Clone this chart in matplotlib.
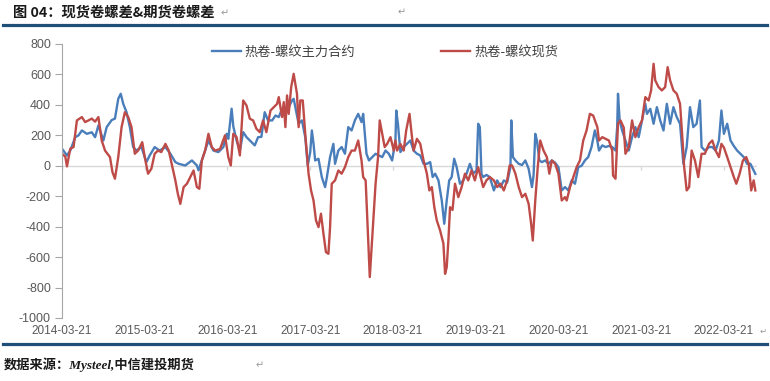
import matplotlib
matplotlib.use("Agg")
import matplotlib.pyplot as plt
from matplotlib.lines import Line2D

plt.rcParams['font.family'] = ['Liberation Sans', 'Noto Sans CJK SC', 'DejaVu Sans']
plt.rcParams['axes.unicode_minus'] = False

# time as decimal year, one line per year
futures_t = (
    [2014.22, 2014.28, 2014.32, 2014.38, 2014.42, 2014.46, 2014.52, 2014.58, 2014.62, 2014.66, 2014.72, 2014.76, 2014.82, 2014.86, 2014.90, 2014.93, 2014.96]
    + [2015.00, 2015.04, 2015.08, 2015.12, 2015.18, 2015.24, 2015.28, 2015.34, 2015.40, 2015.47, 2015.53, 2015.59, 2015.63, 2015.71, 2015.79, 2015.85, 2015.87, 2015.93, 2015.99]
    + [2016.05, 2016.11, 2016.17, 2016.21, 2016.23, 2016.27, 2016.29, 2016.33, 2016.37, 2016.41, 2016.45, 2016.51, 2016.55, 2016.59, 2016.63, 2016.67, 2016.71, 2016.76, 2016.80, 2016.84, 2016.88, 2016.92, 2016.96]
    + [2017.00, 2017.02, 2017.04, 2017.08, 2017.12, 2017.16, 2017.19, 2017.22, 2017.24, 2017.26, 2017.28, 2017.32, 2017.36, 2017.40, 2017.42, 2017.46, 2017.50, 2017.52, 2017.56, 2017.60, 2017.64, 2017.68, 2017.72, 2017.76, 2017.80, 2017.84, 2017.86, 2017.90, 2017.93, 2017.97]
    + [2018.01, 2018.05, 2018.09, 2018.13, 2018.17, 2018.21, 2018.25, 2018.26, 2018.28, 2018.31, 2018.35, 2018.39, 2018.43, 2018.47, 2018.51, 2018.55, 2018.59, 2018.63, 2018.67, 2018.70, 2018.73, 2018.77, 2018.81, 2018.84, 2018.87, 2018.90, 2018.93, 2018.96, 2018.99]
    + [2019.03, 2019.07, 2019.11, 2019.15, 2019.19, 2019.23, 2019.25, 2019.27, 2019.29, 2019.31, 2019.35, 2019.39, 2019.44, 2019.48, 2019.52, 2019.56, 2019.60, 2019.64, 2019.65, 2019.67, 2019.70, 2019.74, 2019.78, 2019.82, 2019.86, 2019.90, 2019.92, 2019.94, 2019.96, 2019.99]
    + [2020.02, 2020.06, 2020.10, 2020.14, 2020.18, 2020.22, 2020.26, 2020.30, 2020.34, 2020.38, 2020.42, 2020.46, 2020.50, 2020.54, 2020.58, 2020.62, 2020.66, 2020.69, 2020.71, 2020.75, 2020.79, 2020.83, 2020.87, 2020.91, 2020.93, 2020.94, 2020.96, 2020.99]
    + [2021.03, 2021.07, 2021.11, 2021.15, 2021.19, 2021.23, 2021.27, 2021.29, 2021.33, 2021.37, 2021.41, 2021.45, 2021.49, 2021.53, 2021.57, 2021.61, 2021.65, 2021.69, 2021.73, 2021.77, 2021.81, 2021.85, 2021.89, 2021.93, 2021.95, 2021.99]
    + [2022.04, 2022.08, 2022.12, 2022.16, 2022.19, 2022.22, 2022.26, 2022.30, 2022.34, 2022.38, 2022.42, 2022.46, 2022.50, 2022.54, 2022.58, 2022.60]
)
futures_v = (
    [112, 68, 100, 188, 200, 232, 210, 220, 188, 265, 166, 254, 300, 310, 440, 473, 407]
    + [352, 254, 123, 100, 123, 24, 68, 123, 100, 123, 79, 24, 13, 2, 35, 2, -30, 68, 166]
    + [100, 90, 123, 210, 177, 375, 260, 166, 100, 221, 188, 155, 134, 188, 190, 352, 298, 298, 330, 320, 375, 352, 385]
    + [429, 440, 385, 276, 298, 188, 2, 90, 232, 144, 35, 46, -74, -140, -80, 57, 144, 13, 100, 123, 79, 254, 232, 298, 341, 287, 341, 79, 35, 57]
    + [79, 68, 57, 100, 79, 35, 166, 363, 276, 90, 123, 144, 166, 100, 79, 68, 13, 13, 24, -74, -52, -96, -228, -381, -228, -96, -74, 46, -9]
    + [-118, -96, -52, 13, -52, -30, 276, 254, -52, -74, -60, -74, -162, -96, -140, -96, -110, -9, 298, 57, 35, 13, 5, 35, -20, -140, -60, 210, 166, 35]
    + [24, 35, 13, 35, 20, -9, -162, -140, -162, -96, -118, -9, 0, 35, 57, 123, 232, 166, 100, 134, 123, 130, 123, 100, 254, 473, 298, 232]
    + [166, 100, 188, 254, 188, 298, 407, 341, 374, 276, 385, 298, 232, 407, 276, 385, 320, 276, 13, 123, 385, 254, 276, 429, 123, 100]
    + [123, 123, 100, 166, 363, 210, 276, 166, 130, 100, 79, 57, 13, 13, -31, -53]
)

spot_t = (
    [2014.22, 2014.26, 2014.28, 2014.32, 2014.36, 2014.40, 2014.46, 2014.50, 2014.54, 2014.58, 2014.62, 2014.66, 2014.70, 2014.74, 2014.80, 2014.83, 2014.86, 2014.90, 2014.94, 2014.98]
    + [2015.02, 2015.06, 2015.10, 2015.14, 2015.19, 2015.22, 2015.26, 2015.30, 2015.34, 2015.38, 2015.42, 2015.47, 2015.51, 2015.55, 2015.59, 2015.62, 2015.65, 2015.69, 2015.73, 2015.77, 2015.81, 2015.85, 2015.88, 2015.91, 2015.95, 2015.99]
    + [2016.03, 2016.07, 2016.13, 2016.19, 2016.23, 2016.26, 2016.29, 2016.33, 2016.37, 2016.41, 2016.45, 2016.49, 2016.53, 2016.57, 2016.61, 2016.65, 2016.69, 2016.74, 2016.78, 2016.82, 2016.84, 2016.88, 2016.90, 2016.92, 2016.94, 2016.96, 2016.99]
    + [2017.02, 2017.04, 2017.06, 2017.08, 2017.10, 2017.13, 2017.16, 2017.18, 2017.20, 2017.23, 2017.26, 2017.29, 2017.32, 2017.35, 2017.38, 2017.41, 2017.44, 2017.46, 2017.48, 2017.52, 2017.56, 2017.60, 2017.64, 2017.68, 2017.72, 2017.76, 2017.80, 2017.84, 2017.86, 2017.89, 2017.92, 2017.94, 2017.97]
    + [2018.01, 2018.04, 2018.06, 2018.09, 2018.12, 2018.15, 2018.19, 2018.23, 2018.25, 2018.27, 2018.31, 2018.35, 2018.38, 2018.42, 2018.45, 2018.47, 2018.51, 2018.55, 2018.59, 2018.63, 2018.66, 2018.69, 2018.72, 2018.75, 2018.79, 2018.83, 2018.85, 2018.87, 2018.89, 2018.91, 2018.94, 2018.97]
    + [2019.01, 2019.05, 2019.09, 2019.13, 2019.17, 2019.21, 2019.25, 2019.29, 2019.31, 2019.35, 2019.39, 2019.44, 2019.48, 2019.52, 2019.56, 2019.60, 2019.63, 2019.66, 2019.70, 2019.74, 2019.78, 2019.82, 2019.86, 2019.89, 2019.91, 2019.94, 2019.97]
    + [2020.00, 2020.04, 2020.08, 2020.11, 2020.14, 2020.18, 2020.22, 2020.26, 2020.30, 2020.32, 2020.36, 2020.40, 2020.44, 2020.48, 2020.52, 2020.56, 2020.60, 2020.64, 2020.69, 2020.71, 2020.75, 2020.79, 2020.83, 2020.87, 2020.88, 2020.91, 2020.94, 2020.97]
    + [2021.01, 2021.03, 2021.07, 2021.11, 2021.15, 2021.19, 2021.23, 2021.27, 2021.31, 2021.34, 2021.37, 2021.39, 2021.43, 2021.47, 2021.51, 2021.54, 2021.57, 2021.61, 2021.65, 2021.69, 2021.72, 2021.74, 2021.77, 2021.80, 2021.83, 2021.87, 2021.91, 2021.95, 2021.99]
    + [2022.04, 2022.08, 2022.12, 2022.16, 2022.19, 2022.22, 2022.26, 2022.30, 2022.34, 2022.37, 2022.41, 2022.45, 2022.49, 2022.52, 2022.55, 2022.58, 2022.60]
)
spot_v = (
    [79, 60, -4, 112, 123, 298, 320, 287, 298, 310, 290, 320, 166, 100, 57, -42, -85, 57, 254, 352]
    + [320, 254, 79, 100, 155, 57, -52, -20, 79, 100, 90, 144, 100, 2, -96, -184, -250, -140, -118, -74, -31, -140, -151, 35, 100, 210]
    + [123, 100, 110, 200, 57, 2, 210, 188, 68, 429, 396, 309, 298, 243, 221, 298, 221, 363, 385, 407, 451, 320, 418, 254, 462, 341, 517]
    + [604, 539, 473, 254, 429, 429, 210, 79, -52, -162, -228, -359, -403, -315, -447, -567, -578, -403, -118, -96, -31, -52, -9, 57, 100, 100, 166, 35, -74, -96, -469, -731, -469]
    + [-118, 57, 298, 210, 123, 144, 188, 100, 166, 100, 144, 100, 232, 341, 188, 100, 177, 144, 35, -52, -162, -140, -272, -359, -425, -512, -710, -666, -491, -272, -290, -118]
    + [-206, -140, -52, -96, -31, -96, -9, -96, -140, -96, -74, -96, -140, -118, -162, -96, 2, 2, -52, -140, -206, -184, -250, -381, -491, -228, -9]
    + [166, 100, 57, -52, 35, 13, -52, -228, -206, -228, -140, -74, -9, 35, 166, 232, 341, 330, 254, 166, 188, 177, 166, 100, -64, -85, 276, 298]
    + [250, 79, 123, 298, 188, 254, 298, 451, 429, 495, 670, 561, 517, 495, 517, 648, 561, 495, 473, 407, 166, -9, -162, -140, 100, 35, -74, 79, 79]
    + [144, 166, 100, 57, 144, 120, 57, -9, -74, -118, -52, 35, 57, 13, -162, -96, -162]
)

tick_pos = [2014.22, 2015.22, 2016.22, 2017.22, 2018.22, 2019.22, 2020.22, 2021.22, 2022.22]
tick_labels = ["2014-03-21", "2015-03-21", "2016-03-21", "2017-03-21", "2018-03-21",
               "2019-03-21", "2020-03-21", "2021-03-21", "2022-03-21"]

assert len(futures_t) == len(futures_v) and len(spot_t) == len(spot_v)

W, H = 770, 381
fig = plt.figure(figsize=(W / 100, H / 100), dpi=100)
ax = fig.add_axes([62 / W, 1 - 318 / H, (757 - 62) / W, (318 - 44) / H])

ax.axhline(0, color="#D9D9D9", lw=1, zorder=0)
ax.vlines(tick_pos, -25, 0, color="#D9D9D9", lw=1, zorder=0)
ax.plot(futures_t, futures_v, color="#4A7EBB", lw=1.7, label="热卷-螺纹主力合约")
ax.plot(spot_t, spot_v, color="#BE4B48", lw=1.7, label="热卷-螺纹现货")

ax.set_xlim(2014.22, 2022.62)
ax.set_ylim(-1000, 800)
ax.set_yticks(range(-1000, 801, 200))
ax.set_xticks(tick_pos, tick_labels)

for s in ("top", "right", "bottom"):
    ax.spines[s].set_visible(False)
ax.spines["left"].set_color("#A6A6A6")
ax.tick_params(axis="y", length=5, color="#A6A6A6", labelcolor="#595959", labelsize=9, pad=3)
ax.tick_params(axis="x", length=0, labelcolor="#595959", labelsize=8.5, pad=5)

fig.legend(loc="center", bbox_to_anchor=(385 / W, 1 - 52 / H), ncol=2, frameon=False,
           prop={"family": ["Noto Sans CJK SC"], "size": 9.5}, labelcolor="#404040",
           handlelength=2.2, columnspacing=6.5, handletextpad=0.3)

# title, rules and footer
fig.text(13 / W, 1 - 13 / H, "图 04：现货卷螺差&期货卷螺差", fontsize=10.3, weight="bold",
         family=["Noto Sans CJK SC"], va="center", color="#1a1a1a")
fig.text(221 / W, 1 - 13 / H, "↵", fontsize=7, color="#999999", va="center", family=["DejaVu Sans"])
fig.text(398 / W, 1 - 12 / H, "↵", fontsize=7, color="#999999", va="center", family=["DejaVu Sans"])
fig.add_artist(Line2D([3 / W, 767 / W], [1 - 25 / H] * 2, color="#1F4E79", lw=2.3))
fig.add_artist(Line2D([3 / W, 767 / W], [1 - 344 / H] * 2, color="#1F4E79", lw=2.3))
fig.text(4 / W, 1 - 365 / H, "数据来源：Mysteel,中信建投期货", fontsize=9.5, weight="bold", style="italic",
         family=["Liberation Serif", "Noto Sans CJK SC"], va="center", color="#1a1a1a")
fig.text(256 / W, 1 - 365 / H, "↵", fontsize=7, color="#999999", va="center", family=["DejaVu Sans"])
fig.text(760 / W, 1 - 331 / H, "↵", fontsize=6, color="#999999", va="center", family=["DejaVu Sans"])

fig.savefig("out.png", dpi=100)
